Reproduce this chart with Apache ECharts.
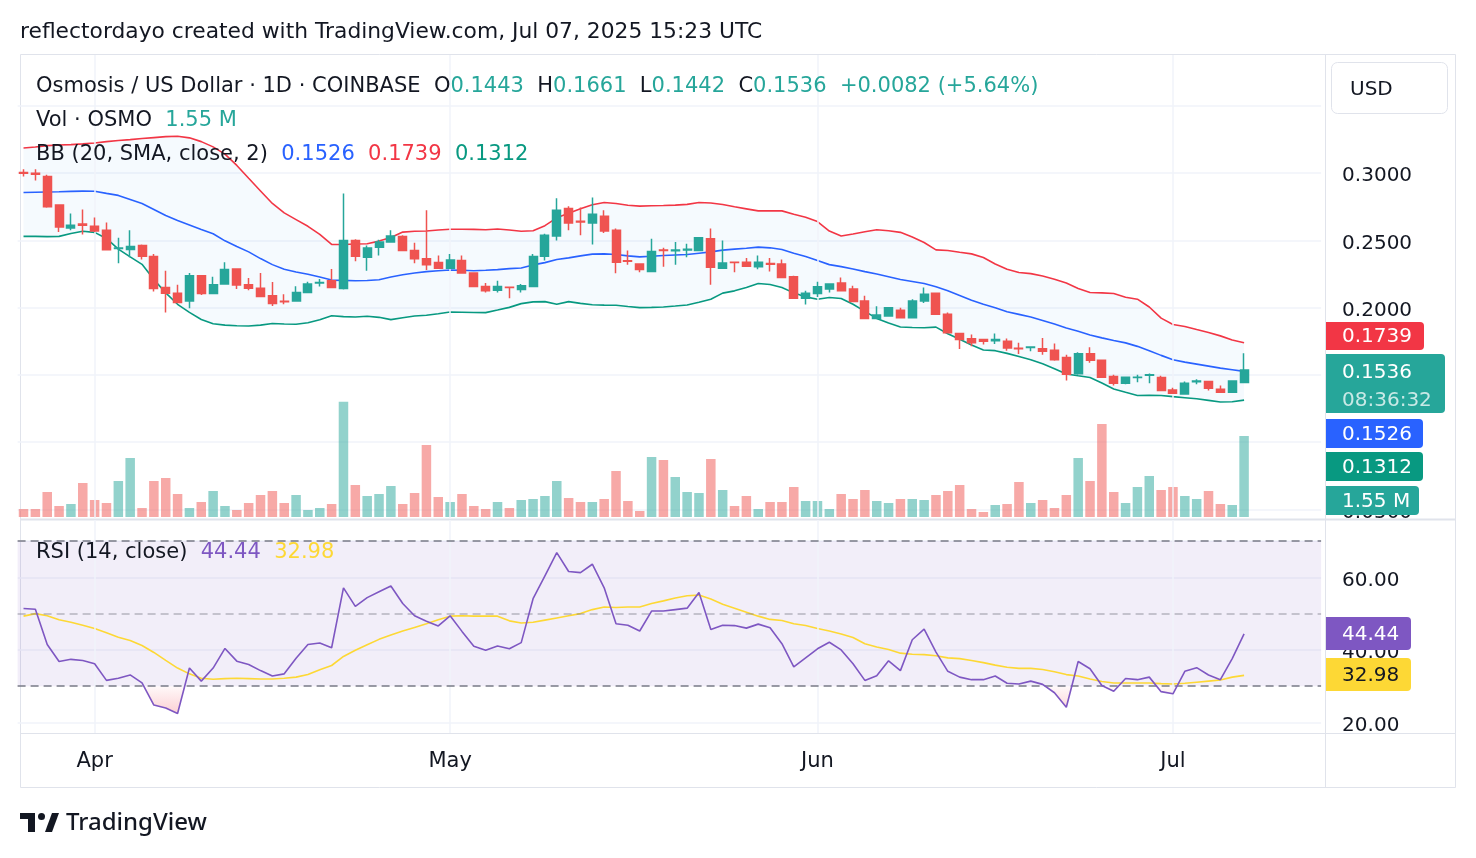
<!DOCTYPE html>
<html>
<head>
<meta charset="utf-8">
<title>Osmosis / US Dollar</title>
<script src="https://cdn.jsdelivr.net/npm/echarts@6.0.0/dist/echarts.min.js"></script>
<style>
  html, body { margin: 0; padding: 0; background: #fff; }
  #main { width: 1476px; height: 858px; }
</style>
</head>
<body>
<div id="main"></div>
<script>
// daily candles, Mar 26 -> Jul 7 2025, plus empty days on the right
var dates = [
  '03-26','03-27','03-28','03-29','03-30','03-31',
  '04-01','04-02','04-03','04-04','04-05','04-06','04-07','04-08','04-09','04-10',
  '04-11','04-12','04-13','04-14','04-15','04-16','04-17','04-18','04-19','04-20',
  '04-21','04-22','04-23','04-24','04-25','04-26','04-27','04-28','04-29','04-30',
  '05-01','05-02','05-03','05-04','05-05','05-06','05-07','05-08','05-09','05-10',
  '05-11','05-12','05-13','05-14','05-15','05-16','05-17','05-18','05-19','05-20',
  '05-21','05-22','05-23','05-24','05-25','05-26','05-27','05-28','05-29','05-30','05-31',
  '06-01','06-02','06-03','06-04','06-05','06-06','06-07','06-08','06-09','06-10',
  '06-11','06-12','06-13','06-14','06-15','06-16','06-17','06-18','06-19','06-20',
  '06-21','06-22','06-23','06-24','06-25','06-26','06-27','06-28','06-29','06-30',
  '07-01','07-02','07-03','07-04','07-05','07-06','07-07',
  '07-08','07-09','07-10','07-11','07-12','07-13'
];
var monthNames = { '04': 'Apr', '05': 'May', '06': 'Jun', '07': 'Jul' };
var monthStarts = ['04-01', '05-01', '06-01', '07-01'];

var opens = [0.3005,0.3000,0.2975,0.2763,0.2593,0.2623,0.2605,0.2575,0.2440,0.2433,
  0.2463,0.2380,0.2150,0.2108,0.2050,0.2238,0.2105,0.2175,0.2288,0.2170,
  0.2145,0.2088,0.2048,0.2050,0.2113,0.2183,0.2200,0.2143,0.2500,0.2375,
  0.2450,0.2488,0.2530,0.2425,0.2363,0.2335,0.2293,0.2350,0.2258,0.2158,
  0.2130,0.2152,0.2135,0.2158,0.2383,0.2533,0.2738,0.2643,0.2630,0.2680,
  0.2575,0.2348,0.2325,0.2268,0.2428,0.2423,0.2428,0.2425,0.2513,0.2293,
  0.2338,0.2338,0.2305,0.2328,0.2325,0.2230,0.2070,0.2105,0.2138,0.2183,
  0.2138,0.2050,0.1920,0.1938,0.1980,0.1925,0.2050,0.2108,0.1950,0.1808,
  0.1768,0.1763,0.1753,0.1750,0.1698,0.1703,0.1695,0.1683,0.1630,0.1508,
  0.1658,0.1608,0.1488,0.1438,0.1480,0.1498,0.1480,0.1388,0.1358,0.1448,
  0.1450,0.1393,0.1370,0.1443];
var highs = [0.3030,0.3030,0.2988,0.2763,0.2700,0.2730,0.2670,0.2633,0.2520,0.2575,
  0.2470,0.2400,0.2275,0.2170,0.2258,0.2243,0.2230,0.2338,0.2288,0.2220,
  0.2258,0.2190,0.2100,0.2160,0.2193,0.2213,0.2288,0.2850,0.2508,0.2463,
  0.2505,0.2575,0.2538,0.2483,0.2725,0.2388,0.2400,0.2388,0.2258,0.2183,
  0.2200,0.2153,0.2175,0.2400,0.2550,0.2813,0.2755,0.2745,0.2820,0.2725,
  0.2588,0.2425,0.2325,0.2513,0.2445,0.2488,0.2475,0.2520,0.2588,0.2500,
  0.2338,0.2370,0.2388,0.2370,0.2358,0.2238,0.2125,0.2193,0.2175,0.2225,
  0.2163,0.2088,0.2010,0.2005,0.2000,0.2063,0.2150,0.2108,0.1963,0.1808,
  0.1800,0.1763,0.1808,0.1770,0.1738,0.1713,0.1775,0.1733,0.1650,0.1668,
  0.1705,0.1608,0.1500,0.1488,0.1500,0.1510,0.1493,0.1405,0.1450,0.1468,
  0.1450,0.1420,0.1460,0.1661];
var lows = [0.2975,0.2945,0.2743,0.2563,0.2575,0.2545,0.2563,0.2425,0.2330,0.2375,
  0.2358,0.2120,0.1963,0.2035,0.1995,0.2095,0.2105,0.2175,0.2138,0.2130,
  0.2083,0.2013,0.2025,0.2045,0.2113,0.2158,0.2150,0.2135,0.2345,0.2275,
  0.2388,0.2488,0.2420,0.2330,0.2280,0.2293,0.2293,0.2258,0.2158,0.2113,
  0.2113,0.2070,0.2113,0.2158,0.2350,0.2500,0.2575,0.2538,0.2470,0.2555,
  0.2255,0.2320,0.2263,0.2268,0.2305,0.2320,0.2375,0.2425,0.2170,0.2293,
  0.2263,0.2308,0.2285,0.2268,0.2225,0.2070,0.2023,0.2080,0.2113,0.2125,
  0.2045,0.1920,0.1920,0.1933,0.1920,0.1920,0.2035,0.1950,0.1813,0.1693,
  0.1713,0.1725,0.1730,0.1680,0.1655,0.1675,0.1650,0.1605,0.1458,0.1500,
  0.1590,0.1483,0.1420,0.1430,0.1445,0.1438,0.1383,0.1358,0.1358,0.1430,
  0.1383,0.1370,0.1370,0.1442];
var closes = [0.3000,0.2993,0.2750,0.2600,0.2613,0.2613,0.2570,0.2430,0.2443,0.2455,
  0.2383,0.2143,0.2108,0.2038,0.2238,0.2105,0.2170,0.2283,0.2168,0.2145,
  0.2083,0.2030,0.2043,0.2113,0.2175,0.2188,0.2150,0.2500,0.2383,0.2443,
  0.2488,0.2533,0.2425,0.2363,0.2320,0.2293,0.2355,0.2258,0.2158,0.2125,
  0.2158,0.2150,0.2163,0.2380,0.2538,0.2725,0.2630,0.2638,0.2695,0.2570,
  0.2338,0.2345,0.2283,0.2418,0.2425,0.2428,0.2435,0.2520,0.2300,0.2333,
  0.2335,0.2308,0.2338,0.2323,0.2225,0.2070,0.2108,0.2155,0.2175,0.2125,
  0.2045,0.1920,0.1945,0.2000,0.1925,0.2050,0.2100,0.1950,0.1813,0.1763,
  0.1738,0.1750,0.1763,0.1700,0.1695,0.1708,0.1675,0.1613,0.1505,0.1658,
  0.1608,0.1483,0.1438,0.1483,0.1483,0.1500,0.1383,0.1363,0.1438,0.1455,
  0.1400,0.1370,0.1454,0.1536];

// volume in millions of OSMO
var volumes = [0.153,0.153,0.479,0.211,0.249,0.651,0.325,0.268,0.689,1.129,
  0.172,0.689,0.746,0.440,0.172,0.287,0.498,0.211,0.134,0.268,
  0.421,0.498,0.268,0.421,0.134,0.172,0.249,2.207,0.612,0.402,
  0.440,0.593,0.249,0.459,1.378,0.383,0.287,0.440,0.211,0.153,
  0.287,0.172,0.325,0.345,0.402,0.689,0.364,0.287,0.287,0.345,
  0.880,0.306,0.115,1.148,1.091,0.766,0.479,0.459,1.110,0.517,
  0.211,0.402,0.153,0.287,0.287,0.574,0.306,0.306,0.153,0.440,
  0.345,0.517,0.306,0.268,0.345,0.345,0.325,0.421,0.498,0.612,
  0.153,0.096,0.230,0.249,0.670,0.268,0.325,0.172,0.421,1.129,
  0.689,1.780,0.479,0.268,0.574,0.785,0.517,0.574,0.402,0.345,
  0.498,0.249,0.230,1.550];

// Bollinger bands (20, SMA, close, 2)
var bbUpper = [0.3187,0.3195,0.3205,0.3210,0.3213,0.3218,0.3225,0.3235,0.3243,0.3250,
  0.3258,0.3265,0.3272,0.3275,0.3263,0.3235,0.3196,0.3142,0.3058,0.2962,
  0.2868,0.2775,0.2705,0.2655,0.2605,0.2545,0.2470,0.2470,0.2473,0.2475,
  0.2495,0.2522,0.2562,0.2568,0.2570,0.2578,0.2583,0.2583,0.2582,0.2580,
  0.2585,0.2578,0.2568,0.2572,0.2610,0.2668,0.2703,0.2735,0.2765,0.2782,
  0.2775,0.2762,0.2755,0.2758,0.2760,0.2763,0.2768,0.2782,0.2778,0.2767,
  0.2750,0.2735,0.2720,0.2720,0.2720,0.2695,0.2672,0.2640,0.2570,0.2533,
  0.2548,0.2565,0.2580,0.2572,0.2560,0.2525,0.2485,0.2430,0.2425,0.2412,
  0.2400,0.2373,0.2325,0.2285,0.2262,0.2253,0.2235,0.2212,0.2183,0.2143,
  0.2113,0.2110,0.2105,0.2078,0.2063,0.2005,0.1922,0.1875,0.1860,0.1837,
  0.1815,0.1790,0.1760,0.1739];
var bbMid = [0.2856,0.2858,0.2860,0.2862,0.2865,0.2867,0.2866,0.2850,0.2835,0.2805,
  0.2775,0.2730,0.2685,0.2648,0.2615,0.2582,0.2550,0.2497,0.2455,0.2415,
  0.2365,0.2320,0.2285,0.2265,0.2248,0.2228,0.2205,0.2203,0.2200,0.2202,
  0.2208,0.2228,0.2245,0.2258,0.2268,0.2275,0.2280,0.2278,0.2275,0.2278,
  0.2283,0.2290,0.2295,0.2318,0.2335,0.2358,0.2370,0.2385,0.2398,0.2400,
  0.2395,0.2385,0.2378,0.2382,0.2388,0.2392,0.2395,0.2405,0.2415,0.2428,
  0.2435,0.2442,0.2450,0.2445,0.2432,0.2405,0.2380,0.2350,0.2320,0.2305,
  0.2288,0.2268,0.2250,0.2230,0.2210,0.2195,0.2180,0.2155,0.2125,0.2090,
  0.2055,0.2025,0.2000,0.1970,0.1950,0.1930,0.1905,0.1878,0.1848,0.1825,
  0.1797,0.1775,0.1755,0.1738,0.1712,0.1680,0.1645,0.1613,0.1595,0.1580,
  0.1565,0.1550,0.1538,0.1526];
var bbLower = [0.2530,0.2530,0.2528,0.2530,0.2552,0.2568,0.2560,0.2515,0.2435,0.2378,
  0.2322,0.2210,0.2110,0.2025,0.1965,0.1912,0.1880,0.1870,0.1865,0.1863,
  0.1870,0.1882,0.1878,0.1876,0.1888,0.1910,0.1940,0.1933,0.1930,0.1936,
  0.1928,0.1911,0.1925,0.1938,0.1943,0.1955,0.1968,0.1966,0.1964,0.1963,
  0.1982,0.2002,0.2030,0.2043,0.2045,0.2025,0.2045,0.2032,0.2022,0.2019,
  0.2018,0.2008,0.2000,0.2002,0.2005,0.2012,0.2020,0.2040,0.2062,0.2108,
  0.2125,0.2150,0.2180,0.2172,0.2150,0.2110,0.2080,0.2063,0.2075,0.2068,
  0.2025,0.1972,0.1920,0.1885,0.1856,0.1852,0.1850,0.1855,0.1806,0.1765,
  0.1722,0.1685,0.1680,0.1660,0.1636,0.1612,0.1582,0.1546,0.1507,0.1493,
  0.1480,0.1440,0.1395,0.1370,0.1347,0.1348,0.1347,0.1338,0.1330,0.1322,
  0.1310,0.1298,0.1300,0.1312];

// RSI (14, close) and its moving average
var rsi = [51.4,51.2,41.5,36.8,37.4,37.1,36.2,31.6,32.2,33.1,
  30.9,24.8,24.0,22.5,35.0,31.4,35.0,40.4,36.9,36.0,
  34.3,32.8,33.4,37.7,41.5,41.9,40.6,57.1,52.0,54.4,
  56.0,57.6,52.8,49.4,47.9,46.6,49.4,45.1,41.0,39.9,
  41.1,40.3,42.0,54.1,60.4,66.8,61.6,61.3,63.6,57.1,
  47.2,46.8,45.2,50.7,50.7,51.1,51.5,55.8,45.6,46.8,
  46.7,46.0,47.1,46.1,41.7,35.3,37.8,40.3,42.1,40.0,
  36.2,31.6,32.9,37.0,34.3,42.8,45.7,39.4,34.1,32.5,
  31.8,31.8,32.8,30.8,30.6,31.4,30.5,28.2,24.2,36.8,
  34.8,30.2,28.6,32.1,31.8,32.5,28.5,27.9,34.1,35.1,
  33.1,31.8,37.6,44.44];
var rsiMA = [49.3,50.0,49.4,48.3,47.6,46.8,45.9,44.7,43.5,42.6,
  41.2,39.3,37.1,35.0,33.4,32.2,31.9,32.1,32.2,32.1,
  32.0,32.0,32.2,32.5,33.2,34.5,35.7,38.2,39.9,41.4,
  42.9,44.1,45.2,46.2,47.2,48.3,49.3,49.4,49.3,49.3,
  49.3,48.0,47.4,47.6,48.2,48.8,49.4,50.0,51.1,51.8,
  51.7,51.8,51.8,52.8,53.5,54.3,54.9,55.1,54.0,52.6,
  51.5,50.4,49.3,48.4,48.1,47.2,46.7,45.9,45.2,44.4,
  43.4,41.7,40.8,40.1,39.1,38.8,38.7,38.4,37.8,37.6,
  37.1,36.5,35.8,35.2,34.9,34.9,34.6,34.0,33.2,32.8,
  32.0,31.3,30.9,30.9,30.9,30.9,30.7,30.6,30.8,31.1,
  31.4,31.7,32.5,32.98];

var FONT = '"DejaVu Sans", sans-serif';
var TXT = '#131722';
var UP = '#26a69a', DOWN = '#ef5350';
var GRIDLINE = '#f0f3fa';

var last = closes.length - 1;
var candleData = opens.map(function (o, i) { return [o, closes[i], lows[i], highs[i]]; });
var volData = volumes.map(function (v, i) {
  return { value: v, itemStyle: { color: closes[i] >= opens[i] ? 'rgba(38,166,154,0.5)' : 'rgba(239,83,80,0.5)' } };
});
var bbSpread = bbUpper.map(function (u, i) { return +(u - bbLower[i]).toFixed(4); });
var chg = closes[last] - closes[last - 1];
var chgPct = chg / closes[last - 1] * 100;

// rsi pane: 70 at y=541, 20 at y=722.5 -> pink only below the 30 line (80% down)
var rsiTop = 541, rsiBottom = 722.5;
var cut = 0.8;
var oversoldFill = new echarts.graphic.LinearGradient(0, rsiTop, 0, rsiBottom, [
  { offset: 0, color: 'rgba(242,54,69,0)' },
  { offset: cut, color: 'rgba(242,54,69,0)' },
  { offset: cut + 0.001, color: 'rgba(242,54,69,0.03)' },
  { offset: 1, color: 'rgba(242,54,69,0.3)' }
], true);

function grid(top, height) { return { left: 17.6, width: 1303.5, top: top, height: height }; }
function catAxis(idx, extra) {
  var a = {
    type: 'category', gridIndex: idx, data: dates, boundaryGap: true,
    axisLine: { show: false }, axisTick: { show: false }, axisLabel: { show: false },
    splitLine: { show: false }
  };
  return Object.assign(a, extra || {});
}
var vLines = {
  silent: true, symbol: ['none', 'none'], label: { show: false },
  lineStyle: { color: GRIDLINE, width: 1.5, type: 'solid' },
  data: monthStarts.map(function (d) { return { xAxis: d }; })
};
// value labels on the right scale, nudged a few px down like TradingView
var scaleRich = { a: { color: TXT, fontSize: 20, fontFamily: FONT, padding: [6, 0, 0, 0] } };

function txt(x, y, text, opt, size) {
  return {
    type: 'text', x: x, y: y, zlevel: 1, z: 100,
    style: Object.assign({ text: text, font: (size || 21) + 'px ' + FONT, fill: TXT, verticalAlign: 'middle' }, opt || {})
  };
}
// right-side value tags, flat elements on the top layer
function tag(y, h, w, color, lines, textColor) {
  var els = [{ type: 'rect', zlevel: 1, z: 100, shape: { x: 1326, y: y, width: w, height: h, r: [0, 4, 4, 0] }, style: { fill: color } }];
  lines.forEach(function (l, k) {
    els.push({
      type: 'text', zlevel: 1, z: 101, x: 1342, y: y + (lines.length === 1 ? h / 2 + 1 : 19 + k * 28),
      style: { text: l, font: '20px ' + FONT, fill: k === 0 ? (textColor || '#fff') : 'rgba(255,255,255,0.75)', verticalAlign: 'middle' }
    });
  });
  return els;
}
function rich(parts) {
  return parts.map(function (p) { return '{' + p[0] + '|' + p[1] + '}'; }).join('');
}
var RF = '21px ' + FONT;
var richStyles = {
  k: { fill: TXT, font: RF },
  g: { fill: UP, font: RF },
  b: { fill: '#2962ff', font: RF },
  r: { fill: '#f23645', font: RF },
  t: { fill: '#089981', font: RF },
  p: { fill: '#7e57c2', font: RF },
  y: { fill: '#fdd835', font: RF }
};

var graphics = [
  txt(20, 32, 'reflectordayo created with TradingView.com, Jul 07, 2025 15:23 UTC', null, 21.8),
  { type: 'rect', shape: { x: 20.5, y: 54.5, width: 1435, height: 733 }, style: { fill: 'none', stroke: '#e0e3eb', lineWidth: 1 } },
  { type: 'line', shape: { x1: 1325.5, y1: 54, x2: 1325.5, y2: 788 }, style: { stroke: '#e0e3eb', lineWidth: 1 } },
  { type: 'line', shape: { x1: 20, y1: 519.5, x2: 1456, y2: 519.5 }, style: { stroke: '#e0e3eb', lineWidth: 2 } },
  { type: 'line', shape: { x1: 20, y1: 733.5, x2: 1456, y2: 733.5 }, style: { stroke: '#e0e3eb', lineWidth: 1 } },
  { type: 'rect', zlevel: 1, shape: { x: 1331.5, y: 62.5, width: 116, height: 51, r: 6 }, style: { fill: '#fff', stroke: '#e0e3eb', lineWidth: 1 } },
  txt(1350, 90, 'USD', null, 20),
  txt(36, 86.5, rich([
    ['k', 'Osmosis / US Dollar · 1D · COINBASE  O'], ['g', opens[last].toFixed(4)],
    ['k', '  H'], ['g', highs[last].toFixed(4)],
    ['k', '  L'], ['g', lows[last].toFixed(4)],
    ['k', '  C'], ['g', closes[last].toFixed(4)],
    ['g', '  +' + chg.toFixed(4) + ' (+' + chgPct.toFixed(2) + '%)']
  ]), { rich: richStyles }),
  txt(36, 120.5, rich([['k', 'Vol · OSMO  '], ['g', volumes[last].toFixed(2) + ' M']]), { rich: richStyles }),
  txt(36, 154.5, rich([
    ['k', 'BB (20, SMA, close, 2)  '], ['b', bbMid[last].toFixed(4)],
    ['k', '  '], ['r', bbUpper[last].toFixed(4)],
    ['k', '  '], ['t', bbLower[last].toFixed(4)]
  ]), { rich: richStyles }),
  txt(36, 552.5, rich([
    ['k', 'RSI (14, close)  '], ['p', rsi[last].toFixed(2)],
    ['k', '  '], ['y', rsiMA[last].toFixed(2)]
  ]), { rich: richStyles })
]
  .concat(tag(322, 28, 98, '#f23645', [bbUpper[last].toFixed(4)]))
  .concat(tag(354, 59, 119, UP, [closes[last].toFixed(4), '08:36:32']))
  .concat(tag(419, 29, 97, '#2962ff', [bbMid[last].toFixed(4)]))
  .concat(tag(452, 29, 97, '#089981', [bbLower[last].toFixed(4)]))
  .concat(tag(486, 29, 93, UP, [volumes[last].toFixed(2) + ' M']))
  .concat(tag(617, 33, 85, '#7e57c2', [rsi[last].toFixed(2)]))
  .concat(tag(658, 33, 85, '#fdd835', [rsiMA[last].toFixed(2)], TXT))
  .concat([
    // TradingView logo
    { type: 'rect', zlevel: 1, shape: { x: 20, y: 813, width: 15, height: 6 }, style: { fill: TXT } },
    { type: 'rect', zlevel: 1, shape: { x: 28, y: 813, width: 7, height: 19 }, style: { fill: TXT } },
    { type: 'circle', zlevel: 1, shape: { cx: 41.5, cy: 816.5, r: 3.5 }, style: { fill: TXT } },
    { type: 'polygon', zlevel: 1, shape: { points: [[45, 832], [52, 813], [59, 813], [52, 832]] }, style: { fill: TXT } },
    txt(66, 823, 'TradingView', { font: '500 24px "Noto Sans", sans-serif' })
  ]);

var chart = echarts.init(document.getElementById('main'));
var option = {
  animation: false,
  backgroundColor: '#fff',
  grid: [
    grid(106, 403.3),   // price
    grid(300, 217),     // volume overlay
    grid(rsiTop, rsiBottom - rsiTop),   // rsi
    grid(55, 464),      // price pane background
    grid(520, 213)      // rsi pane background
  ],
  xAxis: [
    catAxis(0), catAxis(1),
    catAxis(2, {
      axisLabel: {
        show: true, color: TXT, fontSize: 21, fontFamily: FONT, margin: 29,
        interval: function (i, v) { return v.slice(3) === '01'; },
        formatter: function (v) { return monthNames[v.slice(0, 2)] || ''; }
      }
    }),
    catAxis(3), catAxis(4)
  ],
  yAxis: [
    {
      type: 'value', gridIndex: 0, position: 'right', min: 0.05, max: 0.35, interval: 0.05,
      axisLine: { show: false }, axisTick: { show: false },
      splitLine: { lineStyle: { color: GRIDLINE, width: 1.5 } },
      axisLabel: {
        margin: 21, rich: scaleRich,
        // 0.35 sits under the USD button, 0.15 / 0.10 under the value tags
        formatter: function (v) {
          var s = v.toFixed(4);
          return (s === '0.3500' || s === '0.1500' || s === '0.1000') ? '' : '{a|' + s + '}';
        }
      }
    },
    { type: 'value', gridIndex: 1, min: 0, max: 4.153, show: false },
    {
      type: 'value', gridIndex: 2, position: 'right', min: 20, max: 70, interval: 20,
      axisLine: { show: false }, axisTick: { show: false },
      splitLine: { lineStyle: { color: GRIDLINE, width: 1.5 } },
      axisLabel: {
        margin: 21, rich: scaleRich,
        formatter: function (v) { return v > 65 ? '' : '{a|' + v.toFixed(2) + '}'; }
      }
    },
    { type: 'value', gridIndex: 3, min: 0, max: 1, show: false },
    { type: 'value', gridIndex: 4, min: 0, max: 1, show: false }
  ],
  series: [
    { type: 'line', xAxisIndex: 3, yAxisIndex: 3, data: [], z: 0, silent: true, markLine: vLines },
    { type: 'line', xAxisIndex: 4, yAxisIndex: 4, data: [], z: 0, silent: true, markLine: vLines },
    {
      name: 'bbBase', type: 'line', data: bbLower, stack: 'bb', symbol: 'none', silent: true,
      lineStyle: { opacity: 0 }
    },
    {
      name: 'bbFill', type: 'line', data: bbSpread, stack: 'bb', symbol: 'none', silent: true,
      lineStyle: { opacity: 0 }, areaStyle: { color: 'rgba(33,150,243,0.06)', origin: 'auto' }
    },
    { name: 'Upper', type: 'line', data: bbUpper, symbol: 'none', lineStyle: { color: '#f23645', width: 1.6 } },
    { name: 'Basis', type: 'line', data: bbMid, symbol: 'none', lineStyle: { color: '#2962ff', width: 1.6 } },
    { name: 'Lower', type: 'line', data: bbLower, symbol: 'none', lineStyle: { color: '#089981', width: 1.6 } },
    {
      name: 'Volume', type: 'bar', xAxisIndex: 1, yAxisIndex: 1, data: volData, barWidth: 9.5, z: 1
    },
    {
      name: 'OSMOUSD', type: 'candlestick', data: candleData, barWidth: 8.5, z: 5,
      itemStyle: { color: UP, color0: DOWN, borderColor: UP, borderColor0: DOWN, borderWidth: 1.5 }
    },
    {
      name: 'RSI', type: 'line', xAxisIndex: 2, yAxisIndex: 2, data: rsi, symbol: 'none', z: 5,
      lineStyle: { color: '#7e57c2', width: 1.6 },
      markArea: {
        silent: true, itemStyle: { color: 'rgba(126,87,194,0.1)' },
        data: [[{ yAxis: 30 }, { yAxis: 70 }]]
      },
      markLine: {
        silent: true, symbol: ['none', 'none'], label: { show: false },
        data: [
          { yAxis: 70, lineStyle: { color: '#787b86', width: 1.5, type: [8, 5] } },
          { yAxis: 50, lineStyle: { color: 'rgba(120,123,134,0.5)', width: 1.5, type: [8, 5] } },
          { yAxis: 30, lineStyle: { color: '#787b86', width: 1.5, type: [8, 5] } }
        ]
      }
    },
    {
      name: 'RSI-based MA', type: 'line', xAxisIndex: 2, yAxisIndex: 2, data: rsiMA, symbol: 'none', z: 4,
      lineStyle: { color: '#fdd835', width: 1.6 }
    },
    {
      // oversold shading between the RSI line and the 30 level
      name: 'RSI oversold', type: 'line', xAxisIndex: 2, yAxisIndex: 2, data: rsi, symbol: 'none', z: 3,
      silent: true, lineStyle: { opacity: 0 }, areaStyle: { origin: 30, color: oversoldFill, opacity: 1 }
    }
  ],
  graphic: graphics
};
chart.setOption(option);
</script>
</body>
</html>
